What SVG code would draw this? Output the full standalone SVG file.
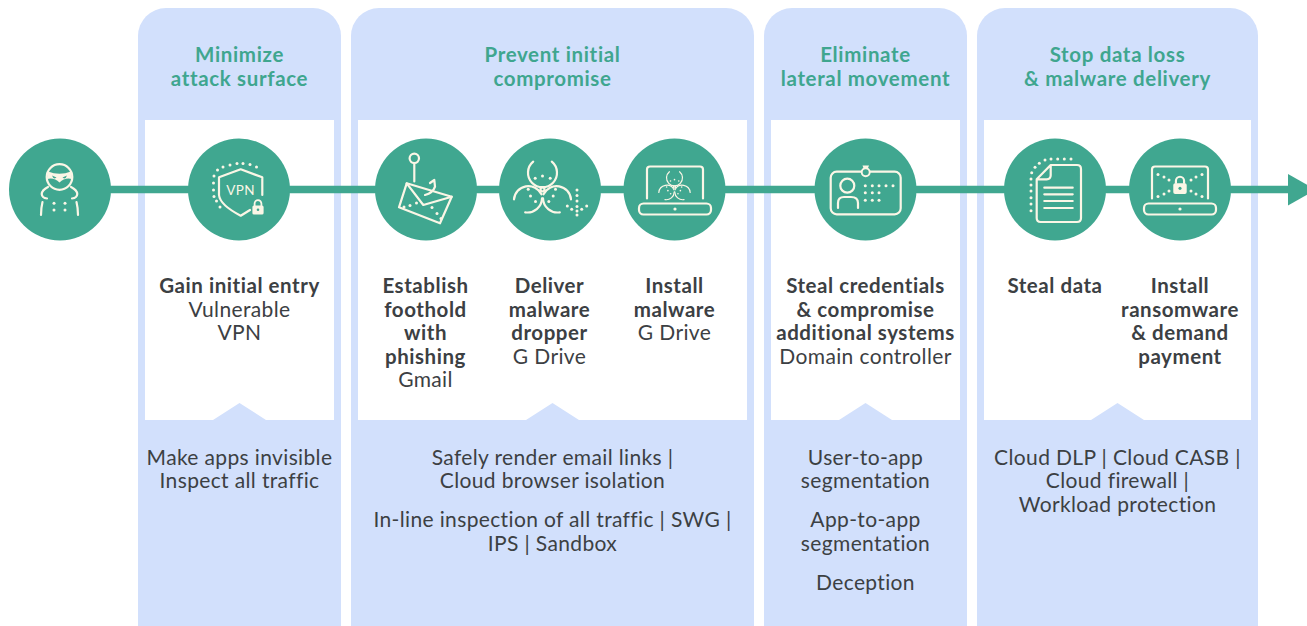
<svg xmlns="http://www.w3.org/2000/svg" xmlns:xlink="http://www.w3.org/1999/xlink" width="1307" height="626" viewBox="0 0 1307 626">
<style>
text{font-family:Lato,"Open Sans","Liberation Sans",sans-serif;font-size:21px;text-anchor:middle;fill:#3c4043;letter-spacing:.36px}
.t{fill:#3fa68f;font-weight:700;font-size:20.5px;letter-spacing:.65px}
.b{font-weight:700;font-size:20.5px;letter-spacing:.55px}
.panel{fill:#d2e0fc}
.inset{fill:#fff}
.c{fill:#40a790}
.i{fill:none;stroke:#fbf6e6;stroke-width:2.2;stroke-linecap:round;stroke-linejoin:round}
.d{fill:#fbf6e6}
</style>
<defs>
<g id="bio">
<path class="i" d="M-9.300 -27.700A14.500 14.500 0 1 0 9.300 -27.700"/>
<path class="i" d="M-28.500 10A14.500 14.500 0 0 1 -1 5M-17.300 23A14.500 14.500 0 0 0 -.5 9"/>
<path class="i" d="M28.500 10A14.500 14.500 0 0 0 1 5M17.300 23A14.500 14.500 0 0 1 .5 9"/>
<circle class="i" cx="0" cy="0" r="2"/>
<g class="d"><circle cx="-7.300" cy="-11" r="1.500"/><circle cx="0" cy="-13.300" r="1.500"/><circle cx="7.700" cy="-11" r="1.500"/><circle cx="-14.300" cy="0" r="1.500"/><circle cx="-12" cy="6.700" r="1.500"/><circle cx="-7" cy="12.300" r="1.500"/><circle cx="13" cy="0" r="1.500"/><circle cx="10.700" cy="6.700" r="1.500"/><circle cx="6.300" cy="12.300" r="1.500"/></g>
</g>
<g id="lap">
<path class="i" d="M-28 9V-20Q-28 -23 -25 -23H25Q28 -23 28 -20V9"/>
<rect class="i" x="-36" y="14" width="72" height="11" rx="4.500"/>
<circle class="d" cx="0" cy="19.500" r="1.600"/>
</g>
<g id="lock">
<path d="M-3.400 -1V-3.500A3.400 3.400 0 0 1 3.400 -3.500V-1" fill="none" stroke="#fbf6e6" stroke-width="1.800"/>
<rect class="d" x="-5.600" y="-1.500" width="11.200" height="9" rx="1.600"/>
<circle cx="0" cy="2.800" r="1.300" fill="#40a790"/>
</g>
</defs>

<g id="panel-minimize"><rect class="panel" x="138" y="8" width="203" height="660" rx="28"/><path class="inset" d="M145 120H334V420H266L239.500 403 213 420H145Z"/>
<text class="t" x="239.500" y="62">Minimize</text><text class="t" x="239.500" y="86">attack surface</text>
<text class="b" x="239.500" y="293">Gain initial entry</text><text x="239.500" y="317">Vulnerable</text><text x="239.500" y="340">VPN</text>
<text x="239.500" y="465">Make apps invisible</text><text x="239.500" y="488">Inspect all traffic</text></g>

<g id="panel-prevent"><rect class="panel" x="351" y="8" width="403" height="660" rx="28"/><path class="inset" d="M358 120H747V420H579L552.500 403 526 420H358Z"/>
<text class="t" x="552.500" y="62">Prevent initial</text><text class="t" x="552.500" y="86">compromise</text>
<text class="b" x="425.500" y="293">Establish</text><text class="b" x="425.500" y="317">foothold</text><text class="b" x="425.500" y="340">with</text><text class="b" x="425.500" y="364">phishing</text><text x="425.500" y="387">Gmail</text>
<text class="b" x="549.500" y="293">Deliver</text><text class="b" x="549.500" y="317">malware</text><text class="b" x="549.500" y="340">dropper</text><text x="549.500" y="364">G Drive</text>
<text class="b" x="674.500" y="293">Install</text><text class="b" x="674.500" y="317">malware</text><text x="674.500" y="340">G Drive</text>
<text x="552.500" y="465">Safely render email links |</text><text x="552.500" y="488">Cloud browser isolation</text><text x="552.500" y="527">In-line inspection of all traffic | SWG |</text><text x="552.500" y="551">IPS | Sandbox</text></g>

<g id="panel-eliminate"><rect class="panel" x="764" y="8" width="203" height="660" rx="28"/><path class="inset" d="M771 120H960V420H892L865.500 403 839 420H771Z"/>
<text class="t" x="865.500" y="62">Eliminate</text><text class="t" x="865.500" y="86">lateral movement</text>
<text class="b" x="865.500" y="293">Steal credentials</text><text class="b" x="865.500" y="317">&amp; compromise</text><text class="b" x="865.500" y="340">additional systems</text><text x="865.500" y="364">Domain controller</text>
<text x="865.500" y="465">User-to-app</text><text x="865.500" y="488">segmentation</text><text x="865.500" y="527">App-to-app</text><text x="865.500" y="551">segmentation</text><text x="865.500" y="590">Deception</text></g>

<g id="panel-stop"><rect class="panel" x="977" y="8" width="281" height="660" rx="28"/><path class="inset" d="M984 120H1251V420H1144L1117.500 403 1091 420H984Z"/>
<text class="t" x="1117.500" y="62">Stop data loss</text><text class="t" x="1117.500" y="86">&amp; malware delivery</text>
<text class="b" x="1055" y="293">Steal data</text>
<text class="b" x="1180" y="293">Install</text><text class="b" x="1180" y="317">ransomware</text><text class="b" x="1180" y="340">&amp; demand</text><text class="b" x="1180" y="364">payment</text>
<text x="1117.500" y="465">Cloud DLP | Cloud CASB |</text><text x="1117.500" y="488">Cloud firewall |</text><text x="1117.500" y="512">Workload protection</text></g>

<g id="connectors"><path d="M60 189.500H1290" stroke="#40a790" stroke-width="7.500" fill="none"/><path d="M1288 174V205.500L1316 189.700Z" fill="#40a790"/></g>

<g id="node-attacker"><circle class="c" cx="60" cy="189.500" r="51"/>
<circle class="i" cx="59.500" cy="177" r="12.800"/>
<path class="d" d="M48 171.500Q59.500 176 71 171.500L72 179Q65 177 59.500 182.500Q54 177 47 179ZM51 175L57 177.500 55 179Q52 178.500 51 175Z"/>
<path d="M52 175.500L56.500 177.500 54.800 178.600Q52.800 178 52 175.500ZM67 175.500L62.500 177.500 64.200 178.600Q66.200 178 67 175.500Z" fill="#40a790"/>
<path class="i" d="M48 187Q42 190 41.700 194Q42 198 47 198.500M71 187Q77 190 77.300 194Q77 198 72 198.500M42.500 202Q41 208 41 215M76.500 202Q78 208 78 215"/>
<g class="d"><circle cx="54" cy="203.300" r="1.500"/><circle cx="65" cy="203.300" r="1.500"/><circle cx="54" cy="210" r="1.500"/><circle cx="65" cy="210" r="1.500"/></g></g>

<g id="node-vpn"><circle class="c" cx="239" cy="189.500" r="51"/>
<path class="i" d="M219 195V177.300L240.700 169.300 262.300 177.300V195M219 195Q220 205 240.700 215.700L250 210"/>
<text x="240.500" y="195" style="font-size:13.500px;fill:#fbf6e6">VPN</text>
<g class="d"><circle cx="217.500" cy="170" r="1.500"/><circle cx="223" cy="167" r="1.500"/><circle cx="230" cy="165" r="1.500"/><circle cx="237" cy="163.500" r="1.500"/><circle cx="243" cy="163.500" r="1.500"/><circle cx="250" cy="164.500" r="1.500"/><circle cx="256.500" cy="167" r="1.500"/><circle cx="214" cy="176" r="1.500"/><circle cx="213.500" cy="183" r="1.500"/><circle cx="213.500" cy="190" r="1.500"/><circle cx="214" cy="196.500" r="1.500"/><circle cx="216.500" cy="201" r="1.500"/><circle cx="220" cy="207" r="1.500"/></g>
<use xlink:href="#lock" href="#lock" transform="translate(258 207)"/></g>

<g id="node-phishing"><circle class="c" cx="426" cy="189.500" r="51"/>
<circle class="i" cx="414.300" cy="158.300" r="4.700"/>
<path class="i" d="M414.300 163V181.500"/>
<path class="i" d="M406.700 183.300L451.700 196.700 440 223.300 399 207.300Z"/>
<path class="i" d="M406.700 183.300L423.300 205 451.700 196.700M434.300 180L435 186.700Q433 193 425 195M430 183L434.300 180"/>
<g class="d"><circle cx="404" cy="207" r="1.500"/><circle cx="410" cy="205.500" r="1.500"/><circle cx="416.500" cy="203" r="1.500"/><circle cx="432" cy="207.500" r="1.500"/><circle cx="437" cy="213.500" r="1.500"/><circle cx="441" cy="218.500" r="1.500"/></g></g>

<g id="node-dropper"><circle class="c" cx="550" cy="189.500" r="51"/>
<use xlink:href="#bio" href="#bio" transform="translate(542.500 189.300)"/>
<g class="d"><circle cx="577" cy="190" r="1.500"/><circle cx="577" cy="195.500" r="1.500"/><circle cx="577" cy="201" r="1.500"/><circle cx="577" cy="206.500" r="1.500"/><circle cx="577" cy="211" r="1.500"/><circle cx="577" cy="215" r="1.500"/><circle cx="567.300" cy="206" r="1.500"/><circle cx="571.700" cy="209.300" r="1.500"/><circle cx="586.700" cy="206" r="1.500"/><circle cx="581.700" cy="209.300" r="1.500"/></g></g>

<g id="node-install"><circle class="c" cx="674.500" cy="189.500" r="51"/>
<use xlink:href="#lap" href="#lap" transform="translate(675 189.500)"/>
<use xlink:href="#bio" href="#bio" transform="translate(674.500 187) scale(.55)"/></g>

<g id="node-credentials"><circle class="c" cx="865.500" cy="189.500" r="51"/>
<rect class="i" x="830.700" y="171.700" width="70" height="42.600" rx="6"/>
<circle cx="865.700" cy="172.300" r="4" fill="#40a790" stroke="#fbf6e6" stroke-width="1.900"/>
<path class="d" d="M862.500 165.500H869L868 168H863.500Z"/>
<circle class="i" cx="847.300" cy="185.700" r="7"/>
<path class="i" d="M838 208V203Q838 197 844 197H851Q858 197 858 203V208"/>
<g class="d"><circle cx="865.300" cy="185.700" r="1.500"/><circle cx="872.300" cy="185.700" r="1.500"/><circle cx="879" cy="185.700" r="1.500"/><circle cx="886" cy="185.700" r="1.500"/><circle cx="893" cy="185.700" r="1.500"/><circle cx="865.300" cy="192.700" r="1.500"/><circle cx="872.300" cy="192.700" r="1.500"/><circle cx="879" cy="192.700" r="1.500"/><circle cx="865.300" cy="200.300" r="1.500"/><circle cx="872.300" cy="200.300" r="1.500"/><circle cx="879" cy="200.300" r="1.500"/></g></g>

<g id="node-data"><circle class="c" cx="1055" cy="189.500" r="51"/>
<path class="i" d="M1050.700 165H1077Q1081 165 1081 169V218Q1081 222 1077 222H1040.700Q1036.700 222 1036.700 218V179.300ZM1050.700 165V175.300Q1050.700 179.300 1046.700 179.300H1036.700"/>
<path class="i" d="M1044.300 187.700H1072.700M1044.300 194.300H1072.700M1044.300 201H1072.700M1044.300 208H1072.700"/>
<g class="d"><circle cx="1071" cy="159" r="1.500"/><circle cx="1064.300" cy="159" r="1.500"/><circle cx="1057.700" cy="159" r="1.500"/><circle cx="1051" cy="159" r="1.500"/><circle cx="1045" cy="160" r="1.500"/><circle cx="1039.300" cy="163.300" r="1.500"/><circle cx="1035" cy="167.300" r="1.500"/><circle cx="1031.700" cy="172.700" r="1.500"/><circle cx="1031" cy="179" r="1.500"/><circle cx="1031" cy="185" r="1.500"/><circle cx="1031" cy="191" r="1.500"/><circle cx="1031" cy="197.700" r="1.500"/><circle cx="1031" cy="204" r="1.500"/><circle cx="1031" cy="210.700" r="1.500"/></g></g>

<g id="node-ransomware"><circle class="c" cx="1180" cy="189.500" r="51"/>
<use xlink:href="#lap" href="#lap" transform="translate(1180 189.500)"/>
<use xlink:href="#lock" href="#lock" transform="translate(1180 185) scale(1.200)"/>
<g class="d"><circle cx="1158" cy="174.500" r="1.500"/><circle cx="1164" cy="177" r="1.500"/><circle cx="1169" cy="180" r="1.500"/><circle cx="1191" cy="180" r="1.500"/><circle cx="1196" cy="177" r="1.500"/><circle cx="1202" cy="174.500" r="1.500"/><circle cx="1158" cy="196.500" r="1.500"/><circle cx="1164" cy="194" r="1.500"/><circle cx="1169" cy="191" r="1.500"/><circle cx="1191" cy="191" r="1.500"/><circle cx="1196" cy="194" r="1.500"/><circle cx="1202" cy="196.500" r="1.500"/></g></g>
</svg>
